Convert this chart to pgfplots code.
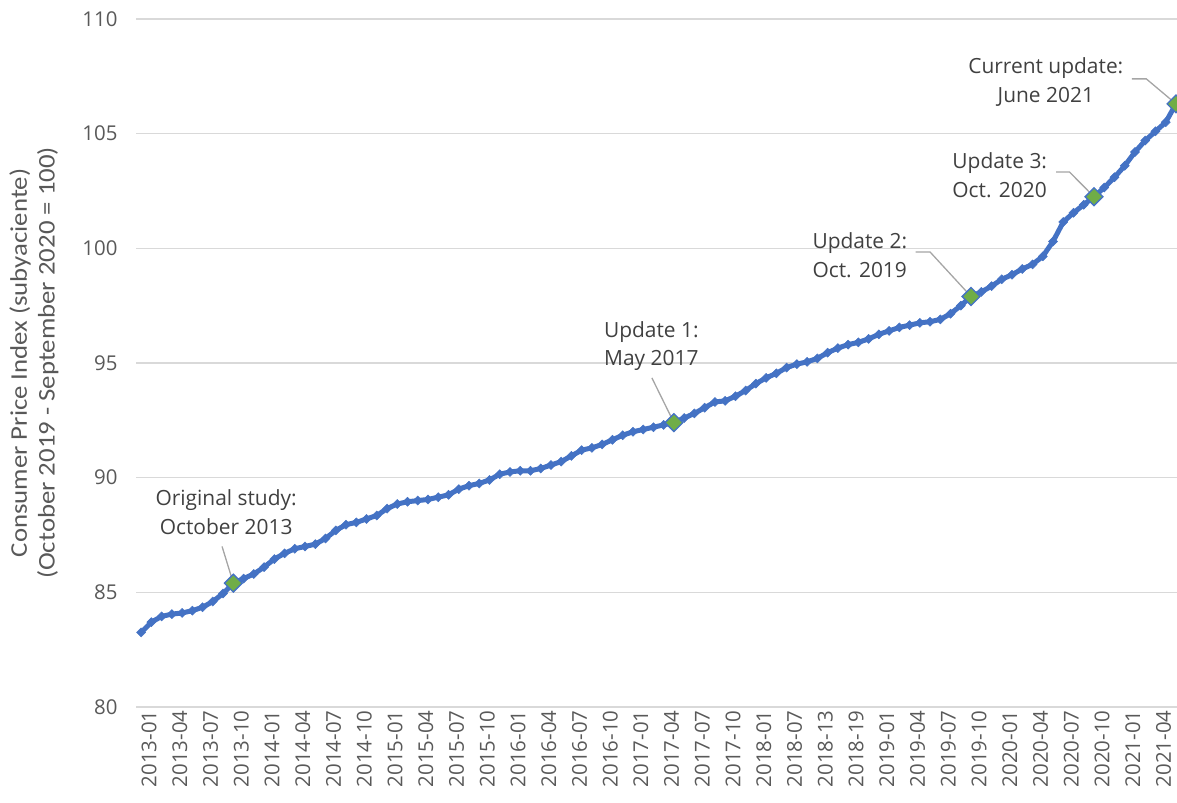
\documentclass[border=0pt]{standalone}
\usepackage{fontspec}
\setmainfont{Open Sans}
\newfontfamily\ylabfont[FakeStretch=1.12]{Carlito}
\usepackage{pgfplots}
\usepackage{pgfplotstable}
\pgfplotsset{compat=1.18}
\definecolor{lineblue}{HTML}{4472C4}
\definecolor{mkgreen}{HTML}{70AD47}
\definecolor{gridgray}{HTML}{D9D9D9}
\definecolor{ticktext}{HTML}{595959}
\definecolor{anntext}{HTML}{404040}
\definecolor{leader}{HTML}{A5A5A5}

\pgfplotstableread{
x y
0 83.25
1 83.7
2 83.95
3 84.05
4 84.1
5 84.2
6 84.35
7 84.6
8 84.95
9 85.4
10 85.6
11 85.8
12 86.1
13 86.45
14 86.7
15 86.9
16 87.0
17 87.1
18 87.35
19 87.7
20 87.95
21 88.05
22 88.2
23 88.35
24 88.65
25 88.85
26 88.95
27 89.0
28 89.05
29 89.15
30 89.25
31 89.5
32 89.65
33 89.75
34 89.9
35 90.15
36 90.25
37 90.3
38 90.3
39 90.4
40 90.55
41 90.7
42 90.95
43 91.2
44 91.3
45 91.45
46 91.65
47 91.85
48 92.0
49 92.1
50 92.2
51 92.3
52 92.4
53 92.6
54 92.8
55 93.05
56 93.3
57 93.35
58 93.55
59 93.8
60 94.1
61 94.35
62 94.55
63 94.8
64 94.95
65 95.05
66 95.2
67 95.45
68 95.65
69 95.8
70 95.9
71 96.05
72 96.25
73 96.4
74 96.55
75 96.65
76 96.75
77 96.8
78 96.9
79 97.15
80 97.5
81 97.9
82 98.1
83 98.35
84 98.65
85 98.85
86 99.1
87 99.3
88 99.65
89 100.3
90 101.15
91 101.55
92 101.9
93 102.25
94 102.65
95 103.1
96 103.6
97 104.2
98 104.7
99 105.1
100 105.5
101 106.3
}\cpi

\pgfplotstableread{
x y
9 85.4
52 92.4
81 97.9
93 102.25
101 106.3
}\upd

\begin{document}
\begin{tikzpicture}
\begin{axis}[
  at={(136bp,96bp)}, anchor=south west,
  scale only axis, width=1041bp, height=688bp,
  xmin=-0.5, xmax=101.1, ymin=80, ymax=110,
  ytick={80,85,...,110},
  xtick={0,3,...,99},
  xticklabels={2013-01,2013-04,2013-07,2013-10,2014-01,2014-04,2014-07,2014-10,2015-01,2015-04,2015-07,2015-10,2016-01,2016-04,2016-07,2016-10,2017-01,2017-04,2017-07,2017-10,2018-01,2018-07,2018-13,2018-19,2019-01,2019-04,2019-07,2019-10,2020-01,2020-04,2020-07,2020-10,2021-01,2021-04},
  axis line style={draw=none},
  major tick length=0pt,
  ymajorgrids,
  grid style={gridgray, line width=1.5bp},
  /pgf/number format/assume math mode=true,
  every tick label/.append style={font=\fontsize{20.5}{24}\selectfont, text=ticktext},
  yticklabel style={anchor=east, xshift=-15bp},
  xticklabel style={rotate=90, anchor=east, yshift=-8bp},
  ylabel={Consumer Price Index (subyaciente)\\(October 2019 - September 2020 = 100)},
  ylabel style={align=center, font=\ylabfont\fontsize{24}{28}\selectfont, text=ticktext, at={(axis description cs:-0.098,0.5)}, anchor=center},
  clip=false,
]
\addplot[lineblue, line width=5bp, mark=square*, mark size=3.2bp, mark options={rotate=45, fill=lineblue, draw=lineblue, line width=0.5bp}] table[x=x, y=y] {\cpi};
\addplot[only marks, mark=square*, mark size=6.3bp, mark options={rotate=45, fill=mkgreen, draw=lineblue, line width=1.3bp}] table[x=x, y=y] {\upd};

\tikzset{ann/.style={align=center, font=\fontsize{21}{29}\selectfont, text=anntext}, ld/.style={leader, line width=1.3bp}}
\node[ann] at (axis cs:8.3,88.5) {Original study:\\October 2013};
\draw[ld] (axis cs:7.9,87.0) -- (axis cs:9,85.4);
\node[ann] at (axis cs:49.8,95.74) {Update 1:\\May 2017};
\draw[ld] (axis cs:49.85,94.35) -- (axis cs:52,92.4);
\node[ann, align=left] at (axis cs:70.15,99.71) {Update 2:\\Oct. 2019};
\draw[ld] (axis cs:75.6,99.84) -- (axis cs:77.0,99.84) -- (axis cs:81,97.9);
\node[ann, align=left] at (axis cs:83.8,103.2) {Update 3:\\Oct. 2020};
\draw[ld] (axis cs:89.3,103.33) -- (axis cs:90.6,103.33) -- (axis cs:93,102.25);
\node[ann] at (axis cs:88.3,107.26) {Current update:\\June 2021};
\draw[ld] (axis cs:96.7,107.39) -- (axis cs:98.1,107.39) -- (axis cs:101,106.3);
\end{axis}
\pgfresetboundingbox
\path (0,0) rectangle (1177bp,803bp);
\end{tikzpicture}
\end{document}
